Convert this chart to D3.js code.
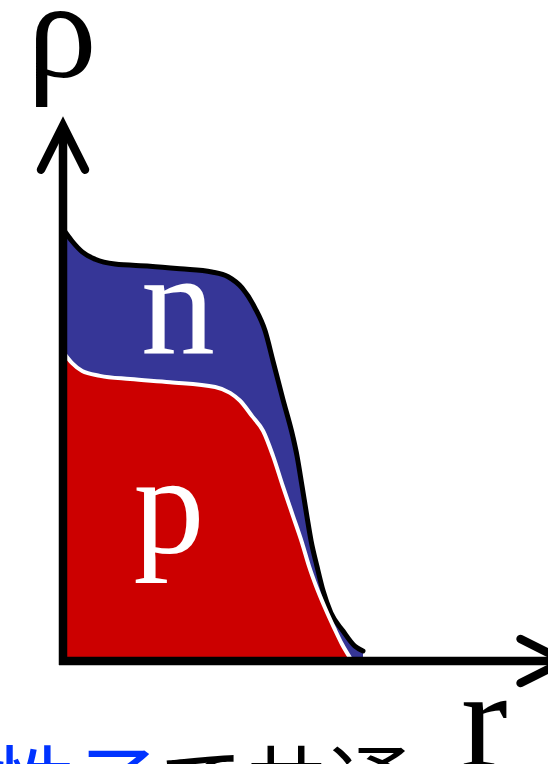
<!DOCTYPE html>
<html>
<head>
<meta charset="utf-8">
<script src="https://cdn.jsdelivr.net/npm/d3@7"></script>
<style>
  html, body { margin: 0; padding: 0; background: white; overflow: hidden; }
</style>
</head>
<body>
<div id="chart"></div>
<script>
// radius r (arbitrary units) and density rho (relative)
var totalR   = [0, 0.19, 0.40, 0.67, 1.08, 1.81, 2.44, 3.10, 3.44, 3.73, 4.00, 4.21, 4.375, 4.58, 4.79, 4.875, 4.98, 5.08, 5.17, 5.29, 5.42, 5.58, 5.83, 6.08, 6.25];
var totalRho = [0.815, 0.792, 0.772, 0.758, 0.749, 0.745, 0.740, 0.734, 0.725, 0.704, 0.666, 0.623, 0.566, 0.494, 0.423, 0.387, 0.330, 0.274, 0.226, 0.179, 0.132, 0.091, 0.057, 0.028, 0.019];

var protonR   = [0, 0.19, 0.40, 0.77, 1.40, 2.23, 3.17, 3.48, 3.69, 3.94, 4.17, 4.375, 4.58, 4.79, 4.98, 5.125, 5.27, 5.46, 5.65, 5.81, 5.98];
var protonRho = [0.583, 0.562, 0.547, 0.538, 0.532, 0.526, 0.517, 0.506, 0.491, 0.462, 0.434, 0.387, 0.330, 0.274, 0.223, 0.179, 0.142, 0.100, 0.062, 0.032, 0.006];

var axisMax = [10.45, 1.01];   // r, rho at the arrow tips
var axisLabels = ["r", "\u03c1"];
var areaLabels = ["n", "p"];
var captionParts = ["中性子", "で共通"];

var width = 548, height = 764;
var svg = d3.select("#chart").append("svg")
    .attr("width", width).attr("height", height);

var xScale = d3.scaleLinear().domain([0, 10]).range([63, 543]);
var yScale = d3.scaleLinear().domain([0, 1]).range([661, 131]);

var totalData = totalR.map(function(r, i) { return {r: r, rho: totalRho[i]}; });
var protonData = protonR.map(function(r, i) { return {r: r, rho: protonRho[i]}; });

var curve = d3.curveMonotoneX;
var area = d3.area().curve(curve)
    .x(function(d) { return xScale(d.r); })
    .y0(yScale(0))
    .y1(function(d) { return yScale(d.rho); });
var line = d3.line().curve(curve)
    .x(function(d) { return xScale(d.r); })
    .y(function(d) { return yScale(d.rho); });

//neutron (total) area
svg.append("path").datum(totalData)
    .attr("d", area)
    .attr("fill", "#363697");
svg.append("path").datum(totalData)
    .attr("d", line)
    .attr("fill", "none")
    .attr("stroke", "black")
    .attr("stroke-width", 5)
    .attr("stroke-linecap", "round")
    .attr("stroke-linejoin", "round");

//proton area
svg.append("path").datum(protonData)
    .attr("d", area)
    .attr("fill", "#cc0000");
svg.append("path").datum(protonData)
    .attr("d", line)
    .attr("fill", "none")
    .attr("stroke", "white")
    .attr("stroke-width", 4)
    .attr("stroke-linejoin", "round");

//axes with open arrowheads
var x0 = xScale(0), y0 = yScale(0);
var xTip = xScale(axisMax[0]), yTip = yScale(axisMax[1]);
var axes = svg.append("g")
    .attr("fill", "none")
    .attr("stroke", "black")
    .attr("stroke-width", 8.5);
axes.append("line")
    .attr("x1", x0).attr("y1", y0 + 4)
    .attr("x2", x0).attr("y2", yTip + 2);
axes.append("line")
    .attr("x1", x0 - 4).attr("y1", y0)
    .attr("x2", xTip - 2).attr("y2", y0);
axes.append("polyline")
    .attr("points", (x0 - 22) + "," + (yTip + 44) + " " + x0 + "," + yTip + " " + (x0 + 22) + "," + (yTip + 44))
    .attr("stroke-linecap", "round");
axes.append("polyline")
    .attr("points", (xTip - 44) + "," + (y0 - 22) + " " + xTip + "," + y0 + " " + (xTip - 44) + "," + (y0 + 22))
    .attr("stroke-linecap", "round");

//labels
var serif = "'Liberation Serif', 'Times New Roman', serif";
svg.append("text")
    .attr("x", x0 - 1).attr("y", 77)
    .attr("text-anchor", "middle")
    .attr("font-family", serif)
    .attr("font-size", 140)
    .text(axisLabels[1]);
svg.append("text")
    .attr("x", 461).attr("y", 767)
    .attr("font-family", serif)
    .attr("font-size", 140)
    .text(axisLabels[0]);
svg.append("text")
    .attr("x", 178).attr("y", 354)
    .attr("text-anchor", "middle")
    .attr("font-family", serif)
    .attr("font-size", 148)
    .attr("fill", "white")
    .text(areaLabels[0]);
svg.append("text")
    .attr("x", 169).attr("y", 553)
    .attr("text-anchor", "middle")
    .attr("font-family", serif)
    .attr("font-size", 142)
    .attr("fill", "white")
    .text(areaLabels[1]);

//caption (cut by the bottom edge)
var cap = svg.append("text")
    .attr("x", -92).attr("y", 816)
    .attr("font-family", "'Noto Sans CJK JP', sans-serif")
    .attr("font-size", 84);
cap.append("tspan").attr("fill", "#0033ff").text(captionParts[0]);
cap.append("tspan").attr("fill", "black").text(captionParts[1]);
</script>
</body>
</html>
